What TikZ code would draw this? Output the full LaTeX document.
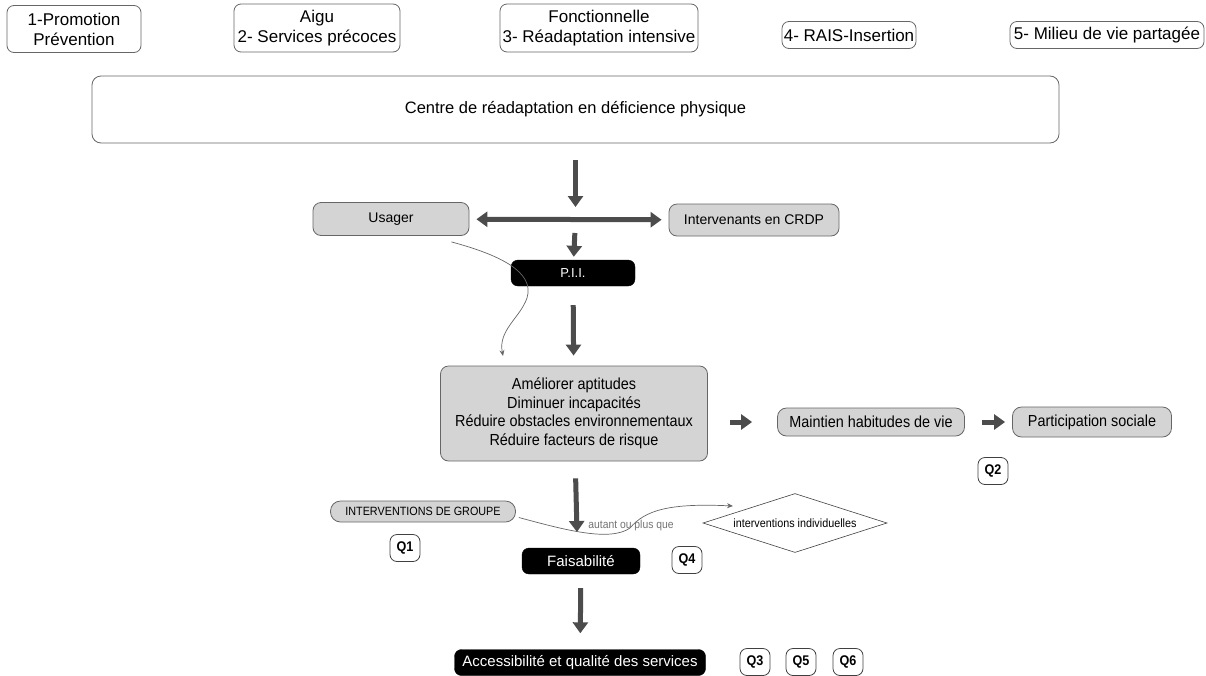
\documentclass[tikz,border=0pt]{standalone}
\usepackage{fontspec}
\setmainfont{Liberation Sans}
\newfontfamily\narrowfont[FakeStretch=0.9]{Liberation Sans}
\usetikzlibrary{arrows.meta,shapes.geometric}

\tikzset{
    phasebox/.style={draw=black!60, line width=0.8pt, rounded corners=7pt, align=center, inner sep=1pt, font=\fontsize{17}{20}\selectfont},
    greybox/.style={draw=black!60, fill=black!17, line width=0.8pt, rounded corners=8pt, align=center, inner sep=1pt},
    blackbox/.style={draw=black, fill=black, text=white, rounded corners=7pt, inner sep=1pt},
    qbox/.style={draw=black!75, line width=0.8pt, rounded corners=7pt, minimum width=30pt, minimum height=27pt, inner sep=0pt, font=\narrowfont\bfseries\fontsize{14}{16}\selectfont},
    bigarrow/.style={draw=black!70, line width=5pt, -{Triangle[length=11pt,width=15pt]}},
    thinarrow/.style={draw=black!60, line width=0.7pt, -{Stealth[length=6pt,width=5pt]}}
}

\begin{document}
\begin{tikzpicture}[x=1pt, y=-1pt]
    \useasboundingbox (0,0) rectangle (1206,675);
    % Phases
    \foreach \name/\i/\x/\y/\w/\h in {{1-Promotion\\Prévention}/1/74/29/134/47,
        {Aigu\\2- Services précoces}/2/317/28/166/48,
        {Fonctionnelle\\3- Réadaptation intensive}/3/599/28/198/48,
        {4- RAIS-Insertion}/4/849/35/134/27,
        {5- Milieu de vie partagée}/5/1107/35/194/27} {
        \node[phasebox, minimum width=\w pt, minimum height=\h pt] (Phase-\i) at (\x,\y) {\name};
    }
    \node[draw=black!60, line width=0.8pt, rounded corners=9pt, minimum width=967pt, minimum height=67pt, font=\fontsize{16.5}{20}\selectfont] (Centre) at (575.5,109.5) {Centre de réadaptation en déficience physique};
    % Usager / intervenants
    \coordinate (Hub) at (575.5,219);
    \node[greybox, minimum width=156pt, minimum height=33pt, font=\fontsize{14}{16}\selectfont] (Usager) at (391,219) {Usager};
    \node[greybox, minimum width=170pt, minimum height=32pt, font=\fontsize{14}{16}\selectfont] (Intervenants) at (754,220) {Intervenants en CRDP};
    \node[blackbox, minimum width=124pt, minimum height=26pt, font=\fontsize{13}{15}\selectfont] (PII) at (573,273) {P.I.I.};
    % Objectifs
    \node[greybox, minimum width=267pt, minimum height=95pt, font=\narrowfont\fontsize{16}{18.5}\selectfont] (Objectifs) at (574,413.5) {Améliorer aptitudes\\Diminuer incapacités\\Réduire obstacles environnementaux\\Réduire facteurs de risque};
    \node[greybox, minimum width=187pt, minimum height=28pt, rounded corners=9pt, font=\narrowfont\fontsize{16}{18}\selectfont] (Maintien) at (871,422) {Maintien habitudes de vie};
    \node[greybox, minimum width=159pt, minimum height=30pt, rounded corners=9pt, font=\narrowfont\fontsize{16}{18}\selectfont] (Participation) at (1092,422) {Participation sociale};
    % Interventions
    \node[greybox, minimum width=185pt, minimum height=21pt, rounded corners=10pt, font=\narrowfont\fontsize{12}{14}\selectfont] (Groupe) at (423,511.5) {INTERVENTIONS DE GROUPE};
    \node[diamond, aspect=3.1, draw=black!75, line width=0.6pt, inner sep=0pt, minimum width=184pt, minimum height=59pt, font=\narrowfont\fontsize{12}{14}\selectfont] (Individuelles) at (795,523) {interventions individuelles};
    \coordinate (Pivot) at (577,532);
    \node[blackbox, minimum width=118pt, minimum height=26pt, font=\fontsize{15}{17}\selectfont] (Faisabilite) at (581,561) {Faisabilité};
    \node[blackbox, minimum width=251pt, minimum height=26pt, font=\fontsize{15}{17}\selectfont] (Acces) at (580,662.5) {Accessibilité et qualité des services};
    % Questions
    \foreach \i/\x/\y in {1/405/548, 2/993/471, 3/755/662, 4/687/560, 5/801/662, 6/848/662} {
        \node[qbox] (Q-\i) at (\x,\y) {Q\i};
    }
    % Arrows
    \draw[bigarrow, shorten <=17pt, shorten >=12pt] (Centre) -- (Hub);
    \draw[bigarrow, {Triangle[length=11pt,width=15pt]}-{Triangle[length=11pt,width=15pt]}, shorten <=7pt, shorten >=7pt] (Usager) -- (Intervenants);
    \draw[bigarrow, shorten <=14pt, shorten >=3pt] (Hub) -- (PII);
    \draw[bigarrow, shorten <=19pt, shorten >=10pt] (PII) -- (Objectifs);
    \draw[bigarrow, shorten <=22pt, shorten >=25pt] (Objectifs.east |- Maintien.west) -- (Maintien.west);
    \draw[bigarrow, shorten <=17pt, shorten >=7pt] (Maintien) -- (Participation);
    \draw[bigarrow, shorten <=17pt] (Objectifs) -- (Pivot);
    \draw[bigarrow, shorten <=14pt, shorten >=16pt] (Faisabilite) -- (Acces);
    % Curves
    \coordinate (UsagerEnd) at (503,356);
    \draw[thinarrow] ([shift={(-18pt,-6pt)}]Usager.south east) .. controls (500,255) and (535,272) .. (527,298) .. controls (520,318) and (498,330) .. (UsagerEnd);
    \draw[thinarrow] ([shift={(3pt,-6pt)}]Groupe.east) .. controls (565,530) and (610,542) .. (630,528) .. controls (645,510) and (670,503) .. ([shift={(-62pt,17pt)}]Individuelles.center);
    \node[text=black!55, font=\narrowfont\fontsize{11.5}{13}\selectfont] (Label) at (631,526) {autant ou plus que};
\end{tikzpicture}
\end{document}
